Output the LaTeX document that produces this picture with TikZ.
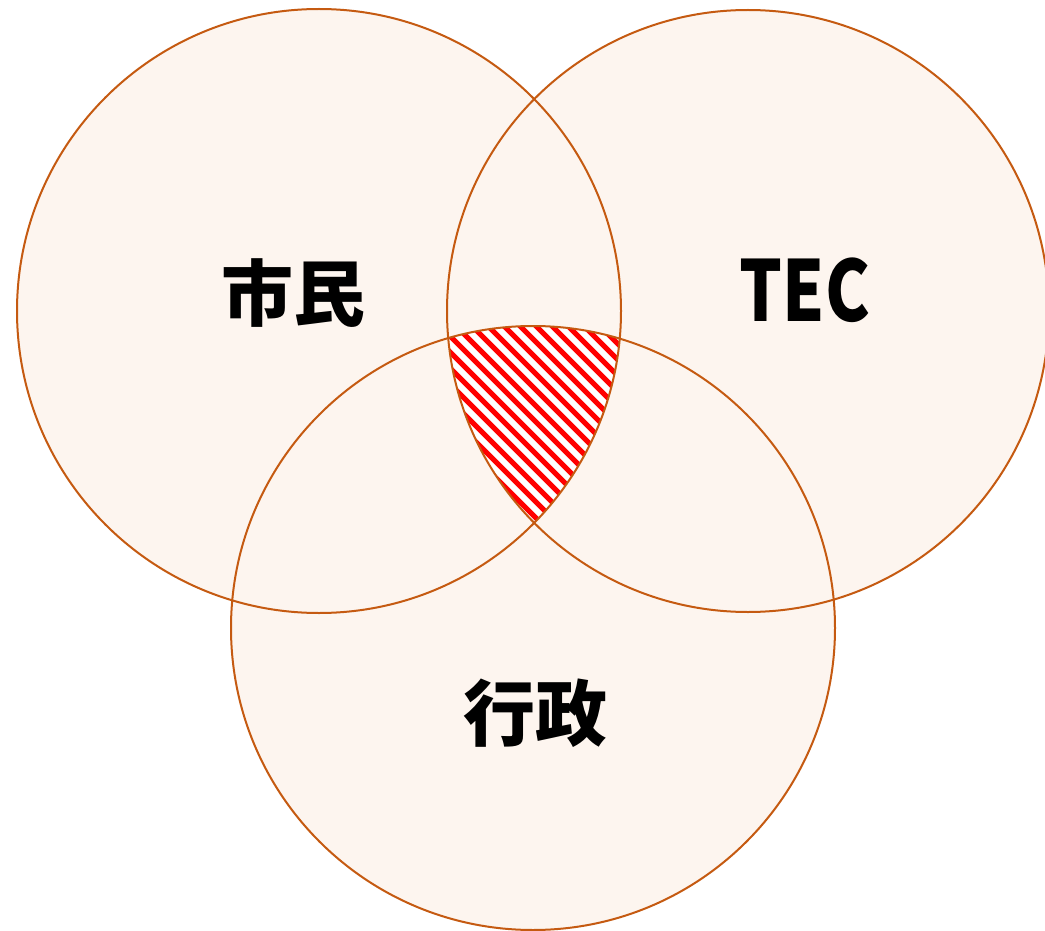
\documentclass[tikz,border=0pt]{standalone}
\usepackage{fontspec}
\usepackage{graphicx}
\newfontfamily\cjk{Noto Sans CJK JP}
\definecolor{ringc}{HTML}{C55A11}
\definecolor{fillc}{HTML}{FDF5EF}
\definecolor{hatchc}{HTML}{FF0000}
\begin{document}
\begin{tikzpicture}[x=1pt,y=-1pt,
  ringline/.style={draw=ringc, line width=2pt},
  ringfill/.style={fill=fillc},
  lbl/.style={font=\cjk\bfseries\fontsize{72}{72}\selectfont, inner sep=0pt, text=black},
  hatchline/.style={draw=hatchc, line width=5pt}]
\useasboundingbox (0,0) rectangle (1045,931);
\fill[white] (0,0) rectangle (1045,931);
\coordinate (cA) at (319,311);
\coordinate (cB) at (748,311);
\coordinate (cC) at (533,628);
\fill[ringfill] (cA) circle[radius=302pt];
\fill[ringfill] (cB) circle[radius=301pt];
\fill[ringfill] (cC) circle[radius=302pt];
\begin{scope}
  \clip (cA) circle[radius=302pt];
  \clip (cB) circle[radius=301pt];
  \clip (cC) circle[radius=302pt];
  \fill[white] (400,300) rectangle (650,560);
  \foreach \k in {0,...,28} {
    \draw[hatchline] (190+\k*16,300) -- ++(260,260);
  }
\end{scope}
\draw[ringline] (cA) circle[radius=302pt];
\draw[ringline] (cB) circle[radius=301pt];
\draw[ringline] (cC) circle[radius=302pt];
\node[lbl] (shimin) at (293,293) {市民};
\node[lbl] (tec) at (805,290) {\scalebox{0.80}[1]{\fontsize{84}{84}\selectfont TEC}};
\node[lbl] (gyosei) at (535,713) {行政};
\end{tikzpicture}
\end{document}
